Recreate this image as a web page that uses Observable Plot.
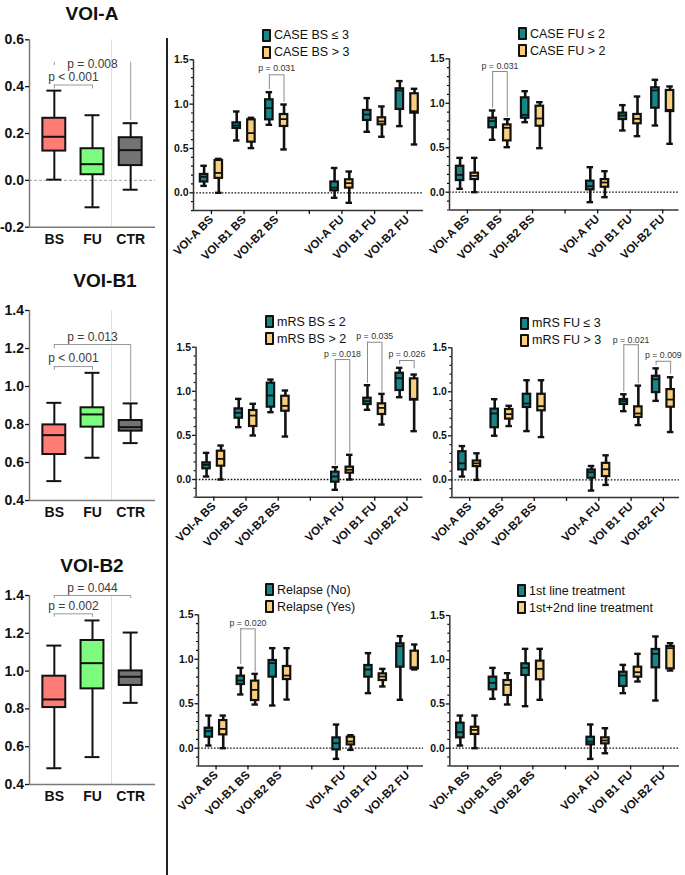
<!DOCTYPE html>
<html>
<head>
<meta charset="utf-8">
<script src="https://cdn.jsdelivr.net/npm/d3@7"></script>
<script src="https://cdn.jsdelivr.net/npm/@observablehq/plot@0.6"></script>
<style>
  body { margin: 0; background: #fff; font-family: "Liberation Sans", Arial, sans-serif; }
  #fig { position: relative; width: 685px; height: 875px; overflow: hidden; background: #fff; }
  .panel { position: absolute; }
  .title { position: absolute; font-weight: bold; font-size: 19px; line-height: 19px; transform: translateX(-50%); white-space: nowrap; color: #111; }
  .legend { position: absolute; font-size: 12.5px; color: #111; }
  .legend .item { display: flex; align-items: center; height: 17px; white-space: nowrap; }
  .sw { display: inline-block; width: 5px; height: 9px; border: 2px solid #111; border-radius: 1px; margin-right: 3px; }
  .divider { position: absolute; left: 166px; top: 38px; width: 1.5px; height: 837px; background: #222; }
</style>
</head>
<body>
<div id="fig"><div class="divider"></div></div>
<script>
// ---- categories ----
const cats = ["BS", "FU", "CTR"];
const catColors = ["#ff7b76", "#7dfb7d", "#737373"];
const regionSlots = ["VOI-A BS", "VOI-B1 BS", "VOI-B2 BS", "", "VOI-A FU", "VOI B1 FU", "VOI-B2 FU"];
const regions = regionSlots.filter(d => d);
const groupKeys = ["low", "high"];
const TEAL = "#158787", GOLD = "#f9cf7d";

// ---- box statistics: [min, q1, median, q3, max] ----
const voiA = [[0.003, 0.125, 0.186, 0.265, 0.383], [-0.115, 0.024, 0.069, 0.135, 0.278], [-0.04, 0.063, 0.129, 0.182, 0.244]];
const voiB1 = [[0.502, 0.642, 0.744, 0.798, 0.914], [0.625, 0.786, 0.853, 0.888, 1.072], [0.702, 0.765, 0.786, 0.821, 0.911]];
const voiB2 = [[0.486, 0.807, 0.85, 0.973, 1.135], [0.545, 0.906, 1.042, 1.162, 1.268], [0.832, 0.924, 0.97, 1.001, 1.204]];

// one row per region: VOI-A BS, VOI-B1 BS, VOI-B2 BS, VOI-A FU, VOI B1 FU, VOI-B2 FU
const caseBsLow = [[0.078, 0.122, 0.18, 0.207, 0.305], [0.59, 0.726, 0.759, 0.789, 0.917], [0.767, 0.823, 0.955, 1.049, 1.135], [-0.056, 0.022, 0.058, 0.122, 0.28], [0.688, 0.816, 0.883, 0.929, 1.068], [0.752, 0.94, 1.154, 1.173, 1.26]];
const caseBsHigh = [[0.0, 0.163, 0.224, 0.365, 0.383], [0.504, 0.571, 0.673, 0.823, 0.846], [0.489, 0.748, 0.831, 0.883, 0.996], [-0.113, 0.053, 0.109, 0.147, 0.24], [0.632, 0.767, 0.805, 0.846, 0.974], [0.545, 0.898, 0.92, 1.117, 1.173]];
const caseFuLow = [[0.038, 0.131, 0.195, 0.292, 0.386], [0.589, 0.724, 0.799, 0.832, 0.919], [0.787, 0.832, 0.87, 1.061, 1.136], [-0.112, 0.026, 0.067, 0.124, 0.281], [0.694, 0.817, 0.862, 0.889, 0.979], [0.75, 0.945, 1.144, 1.174, 1.264]];
const caseFuHigh = [[0.0, 0.142, 0.184, 0.214, 0.386], [0.506, 0.577, 0.724, 0.757, 0.821], [0.495, 0.742, 0.829, 0.967, 1.012], [-0.056, 0.056, 0.109, 0.142, 0.236], [0.63, 0.769, 0.825, 0.874, 1.076], [0.544, 0.907, 0.926, 1.144, 1.189]];
const mrsBsLow = [[0.034, 0.121, 0.166, 0.189, 0.302], [0.593, 0.695, 0.756, 0.801, 0.914], [0.763, 0.82, 0.952, 1.092, 1.133], [-0.117, -0.03, 0.034, 0.083, 0.14], [0.79, 0.85, 0.888, 0.922, 1.069], [0.933, 1.009, 1.148, 1.205, 1.266]];
const mrsBsHigh = [[0.0, 0.151, 0.234, 0.321, 0.385], [0.499, 0.601, 0.725, 0.782, 0.858], [0.487, 0.774, 0.835, 0.944, 1.009], [0.0, 0.072, 0.11, 0.14, 0.28], [0.623, 0.737, 0.812, 0.858, 0.971], [0.548, 0.9, 0.915, 1.141, 1.19]];
const mrsFuLow = [[0.038, 0.113, 0.188, 0.32, 0.384], [0.501, 0.592, 0.754, 0.803, 0.916], [0.554, 0.822, 0.867, 0.972, 1.131], [-0.121, 0.019, 0.087, 0.113, 0.158], [0.78, 0.856, 0.893, 0.912, 0.972], [0.897, 0.991, 1.142, 1.176, 1.266]];
const mrsFuHigh = [[0.0, 0.151, 0.188, 0.215, 0.302], [0.611, 0.69, 0.746, 0.799, 0.841], [0.486, 0.784, 0.837, 0.972, 1.131], [-0.057, 0.038, 0.121, 0.188, 0.279], [0.622, 0.709, 0.754, 0.829, 1.07], [0.543, 0.825, 0.912, 1.025, 1.165]];
const relapseNo = [[0.03, 0.124, 0.191, 0.225, 0.367], [0.604, 0.716, 0.761, 0.81, 0.904], [0.48, 0.799, 0.956, 0.986, 1.125], [-0.12, -0.019, 0.056, 0.116, 0.266], [0.619, 0.799, 0.885, 0.93, 1.069], [0.544, 0.911, 1.147, 1.174, 1.26]];
const relapseYes = [[0.0, 0.15, 0.217, 0.311, 0.367], [0.491, 0.536, 0.656, 0.754, 0.836], [0.547, 0.772, 0.817, 0.919, 1.125], [-0.019, 0.037, 0.075, 0.124, 0.146], [0.694, 0.761, 0.806, 0.836, 0.892], [0.885, 0.892, 0.911, 1.091, 1.166]];
const firstLine = [[0.03, 0.117, 0.181, 0.283, 0.369], [0.558, 0.66, 0.739, 0.803, 0.908], [0.475, 0.822, 0.908, 0.954, 1.123], [-0.121, 0.038, 0.075, 0.124, 0.268], [0.622, 0.698, 0.822, 0.859, 0.942], [0.539, 0.908, 1.067, 1.116, 1.263]];
const firstSecondLine = [[0.0, 0.155, 0.207, 0.237, 0.369], [0.494, 0.596, 0.716, 0.765, 0.848], [0.547, 0.773, 0.897, 0.984, 1.123], [-0.057, 0.049, 0.087, 0.117, 0.226], [0.754, 0.803, 0.859, 0.916, 1.067], [0.878, 0.897, 1.131, 1.15, 1.187]];

// ---- significance brackets (y: bar height, yA/yB or yLow/yHigh: drop ends, ty: label height) ----
const voiATests = [
  {a: "BS", b: "FU", y: 0.407, yA: 0.39, yB: 0.39, ty: 0.44, label: "p < 0.001", bar: true},
  {a: "BS", b: "CTR", y: 0.504, yA: 0.49, yB: 0.255, ty: 0.497, label: "p = 0.008", bar: false}
];
const voiB1Tests = [
  {a: "BS", b: "FU", y: 1.105, yA: 1.085, yB: 1.085, ty: 1.149, label: "p < 0.001", bar: true},
  {a: "BS", b: "CTR", y: 1.221, yA: 1.198, yB: 0.917, ty: 1.262, label: "p = 0.013", bar: true}
];
const voiB2Tests = [
  {a: "BS", b: "FU", y: 1.303, yA: 1.285, yB: 1.285, ty: 1.342, label: "p = 0.002", bar: true},
  {a: "BS", b: "CTR", y: 1.4, yA: 1.383, yB: 1.383, ty: 1.44, label: "p = 0.044", bar: true}
];
const caseBsTests = [{region: "VOI-B2 BS", y: 1.331, yLow: 1.165, yHigh: 1.02, ty: 1.406, label: "p = 0.031"}];
const caseFuTests = [{region: "VOI-B1 BS", y: 1.357, yLow: 0.945, yHigh: 0.84, ty: 1.417, label: "p = 0.031"}];
const mrsBsTests = [
  {region: "VOI-A FU", y: 1.36, yLow: 0.16, yHigh: 0.3, ty: 1.424, label: "p = 0.018"},
  {region: "VOI B1 FU", y: 1.556, yLow: 1.09, yHigh: 0.99, ty: 1.62, label: "p = 0.035"},
  {region: "VOI-B2 FU", y: 1.349, yLow: 1.303, yHigh: 1.254, ty: 1.417, label: "p = 0.026"}
];
const mrsFuTests = [
  {region: "VOI B1 FU", y: 1.534, yLow: 0.999, yHigh: 1.093, ty: 1.59, label: "p = 0.021"},
  {region: "VOI-B2 FU", y: 1.346, yLow: 1.3, yHigh: 1.199, ty: 1.413, label: "p = 0.009"}
];
const relapseTests = [{region: "VOI-B1 BS", y: 1.342, yLow: 0.94, yHigh: 0.855, ty: 1.41, label: "p = 0.020"}];

const fig = document.getElementById("fig");
const baseStyle = {fontFamily: "'Liberation Sans', Arial, sans-serif", fontWeight: "bold", overflow: "visible", background: "transparent", color: "#111"};

function place(node, left, top) {
  const wrap = document.createElement("div");
  wrap.className = "panel";
  wrap.style.left = left + "px";
  wrap.style.top = top + "px";
  wrap.appendChild(node);
  fig.appendChild(wrap);
}

function addTitle(text, cx, baseline) {
  const el = document.createElement("div");
  el.className = "title";
  el.textContent = text;
  el.style.left = cx + "px";
  el.style.top = (baseline - 16) + "px";
  fig.appendChild(el);
}

function addLegend(labels, left, top) {
  const el = document.createElement("div");
  el.className = "legend";
  el.style.left = left + "px";
  el.style.top = top + "px";
  labels.forEach((lab, i) => {
    const item = document.createElement("div");
    item.className = "item";
    const sw = document.createElement("span");
    sw.className = "sw";
    sw.style.background = i ? GOLD : TEAL;
    item.appendChild(sw);
    item.appendChild(document.createTextNode(lab));
    el.appendChild(item);
  });
  fig.appendChild(el);
}

// three-group box plot (BS / FU / CTR), whiskers min to max
function trioPanel({left, top, height, yTop, yBot, domain, stats, tests, zero}) {
  const width = 160;
  const rows = stats.map(([min, q1, med, q3, max], k) => ({cat: cats[k], k, min, q1, med, q3, max}));
  const at = c => cats.indexOf(c);
  const hw = 0.3, cw = 0.196;
  const ticks = d3.range(Math.round(domain[0] * 10), Math.round(domain[1] * 10) + 1, 2).map(v => v / 10);
  const bars = tests.filter(t => t.bar);
  const svg = Plot.plot({
    width, height,
    marginLeft: 29, marginRight: width - 155,
    marginTop: yTop - top, marginBottom: height - (yBot - top),
    x: {domain: [-0.65, 2.65], label: null},
    y: {domain, label: null},
    color: {domain: cats, range: catColors},
    style: {...baseStyle, fontSize: "13px"},
    marks: [
      Plot.ruleX([1.5], {y1: domain[0], y2: domain[1], stroke: "#dedede", strokeWidth: 1}),
      ...(zero ? [Plot.ruleY([0], {stroke: "#a0a0a0", strokeWidth: 1, strokeDasharray: "3,2"})] : []),
      Plot.ruleX([-0.65], {y1: domain[0], y2: domain[1], stroke: "#7a7a7a", strokeWidth: 1.5}),
      Plot.ruleY([domain[0]], {stroke: "#7a7a7a", strokeWidth: 1.5}),
      Plot.axisY({ticks, tickFormat: d => d.toFixed(1), tickSize: 4, tickPadding: 1.5, fontSize: 14, fontWeight: "bold", strokeWidth: 1.3}),
      Plot.axisX({ticks: [0, 1, 2], tickFormat: i => cats[i], tickSize: 0, tickPadding: 7, fontSize: 14, fontWeight: "bold"}),
      Plot.ruleY(bars, {y: "y", x1: t => at(t.a), x2: t => at(t.b), stroke: "#9a9a9a", strokeWidth: 1}),
      Plot.ruleX(tests, {x: t => at(t.a), y1: "yA", y2: "y", stroke: "#9a9a9a", strokeWidth: 1}),
      Plot.ruleX(tests, {x: t => at(t.b), y1: "yB", y2: "y", stroke: "#9a9a9a", strokeWidth: 1}),
      Plot.text(tests, {x: t => (at(t.a) + at(t.b)) / 2, y: "ty", text: "label", fontSize: 12, fontWeight: "normal", fill: "#3a3a3a"}),
      Plot.ruleX(rows, {x: "k", y1: "min", y2: "max", stroke: "#111", strokeWidth: 2}),
      Plot.ruleY(rows, {y: "min", x1: d => d.k - cw, x2: d => d.k + cw, stroke: "#111", strokeWidth: 2}),
      Plot.ruleY(rows, {y: "max", x1: d => d.k - cw, x2: d => d.k + cw, stroke: "#111", strokeWidth: 2}),
      Plot.rect(rows, {x1: d => d.k - hw, x2: d => d.k + hw, y1: "q1", y2: "q3", fill: "cat", stroke: "#111", strokeWidth: 2}),
      Plot.ruleY(rows, {y: "med", x1: d => d.k - hw, x2: d => d.k + hw, stroke: "#111", strokeWidth: 2})
    ]
  });
  place(svg, left, top);
}

function statRows(values, group) {
  return values.map(([min, q1, med, q3, max], k) => ({region: regions[k], group, min, q1, med, q3, max}));
}

// paired box plots per region on a shared 0–1.5 scale
function pairedPanel({left, top, x0, x1, y15, y0, low, high, tests}) {
  const yBottom = y0 + (y0 - y15) * 0.2 / 1.5;
  const width = Math.round(x1 - left + 6);
  const height = Math.round(yBottom - top + 70);
  const rows = [...statRows(low, "low"), ...statRows(high, "high")];
  const slot = r => regionSlots.indexOf(r);
  const shift = 0.225, bw = 0.115, cw = 0.1;
  const cx = d => slot(d.region) + (d.group === "low" ? -shift : shift);
  const xMin = -0.55, xMax = 6.5;
  const minor = d3.range(-2, 16).map(k => k / 10).filter(v => Math.abs(v * 2 - Math.round(v * 2)) > 1e-6);
  const svg = Plot.plot({
    width, height,
    marginLeft: x0 - left, marginRight: width - (x1 - left),
    marginTop: y15 - top, marginBottom: height - (yBottom - top),
    x: {domain: [xMin, xMax], label: null},
    y: {domain: [-0.2, 1.5], label: null},
    color: {domain: groupKeys, range: [TEAL, GOLD]},
    style: {...baseStyle, fontSize: "10px"},
    marks: [
      Plot.ruleY([0], {stroke: "#111", strokeWidth: 1.3, strokeDasharray: "1.6,1.6"}),
      Plot.ruleX([xMin], {y1: -0.2, y2: 1.5, stroke: "#333", strokeWidth: 1.5}),
      Plot.ruleY([-0.2], {stroke: "#333", strokeWidth: 1.5}),
      Plot.axisY({ticks: [0, 0.5, 1, 1.5], tickFormat: d => d.toFixed(1), tickSize: 3.5, tickPadding: 1.5, fontSize: 10.5, fontWeight: "bold", strokeWidth: 1.3}),
      Plot.axisY({ticks: minor, tickFormat: () => "", tickSize: 2, strokeWidth: 1.2}),
      Plot.axisX({ticks: d3.range(7), tickFormat: i => regionSlots[i], tickRotate: -45, tickSize: 4, tickPadding: 3, fontSize: 11.5, fontWeight: "bold", strokeWidth: 1.3}),
      Plot.ruleY(tests, {y: "y", x1: t => slot(t.region) - shift, x2: t => slot(t.region) + shift, stroke: "#8a8a8a", strokeWidth: 1}),
      Plot.ruleX(tests, {x: t => slot(t.region) - shift, y1: "yLow", y2: "y", stroke: "#8a8a8a", strokeWidth: 1}),
      Plot.ruleX(tests, {x: t => slot(t.region) + shift, y1: "yHigh", y2: "y", stroke: "#8a8a8a", strokeWidth: 1}),
      Plot.text(tests, {x: t => slot(t.region), y: "ty", text: "label", fontSize: 8.8, fontWeight: "normal", fill: "#333"}),
      Plot.ruleX(rows, {x: cx, y1: "min", y2: "max", stroke: "#111", strokeWidth: 2.6}),
      Plot.ruleY(rows, {y: "min", x1: d => cx(d) - cw, x2: d => cx(d) + cw, stroke: "#111", strokeWidth: 2.4}),
      Plot.ruleY(rows, {y: "max", x1: d => cx(d) - cw, x2: d => cx(d) + cw, stroke: "#111", strokeWidth: 2.4}),
      Plot.rect(rows, {x1: d => cx(d) - bw, x2: d => cx(d) + bw, y1: "q1", y2: "q3", fill: "group", stroke: "#111", strokeWidth: 2.2}),
      Plot.ruleY(rows, {y: "med", x1: d => cx(d) - bw, x2: d => cx(d) + bw, stroke: "#111", strokeWidth: 1.8})
    ]
  });
  place(svg, left, top);
}

// ---- left column ----
addTitle("VOI-A", 92, 20);
trioPanel({left: 0, top: 25, height: 240, yTop: 39.3, yBot: 226.7, domain: [-0.2, 0.6], stats: voiA, tests: voiATests, zero: true});
addTitle("VOI-B1", 105, 287);
trioPanel({left: 0, top: 295, height: 245, yTop: 310, yBot: 500, domain: [0.4, 1.4], stats: voiB1, tests: voiB1Tests, zero: false});
addTitle("VOI-B2", 92, 572);
trioPanel({left: 0, top: 578, height: 245, yTop: 595, yBot: 784, domain: [0.4, 1.4], stats: voiB2, tests: voiB2Tests, zero: false});

// ---- right columns ----
pairedPanel({left: 170, top: 40, x0: 193, x1: 423, y15: 59.3, y0: 192.3, low: caseBsLow, high: caseBsHigh, tests: caseBsTests});
addLegend(["CASE BS ≤ 3", "CASE BS > 3"], 262, 26.5);
pairedPanel({left: 428, top: 40, x0: 449, x1: 678.5, y15: 58.3, y0: 191.7, low: caseFuLow, high: caseFuHigh, tests: caseFuTests});
addLegend(["CASE FU ≤ 2", "CASE FU > 2"], 518, 25);
pairedPanel({left: 170, top: 328, x0: 195.6, x1: 422.5, y15: 346.7, y0: 479, low: mrsBsLow, high: mrsBsHigh, tests: mrsBsTests});
addLegend(["mRS BS ≤ 2", "mRS BS > 2"], 265, 313);
pairedPanel({left: 428, top: 328, x0: 451.5, x1: 680, y15: 347.3, y0: 480, low: mrsFuLow, high: mrsFuHigh, tests: mrsFuTests});
addLegend(["mRS FU ≤ 3", "mRS FU > 3"], 520, 314.5);
pairedPanel({left: 170, top: 596, x0: 198, x1: 423, y15: 614.3, y0: 747.7, low: relapseNo, high: relapseYes, tests: relapseTests});
addLegend(["Relapse (No)", "Relapse (Yes)"], 265, 581);
pairedPanel({left: 428, top: 596, x0: 449.3, x1: 679, y15: 615, y0: 747.7, low: firstLine, high: firstSecondLine, tests: []});
addLegend(["1st line treatment", "1st+2nd line treatment"], 517, 582);
</script>
</body>
</html>
